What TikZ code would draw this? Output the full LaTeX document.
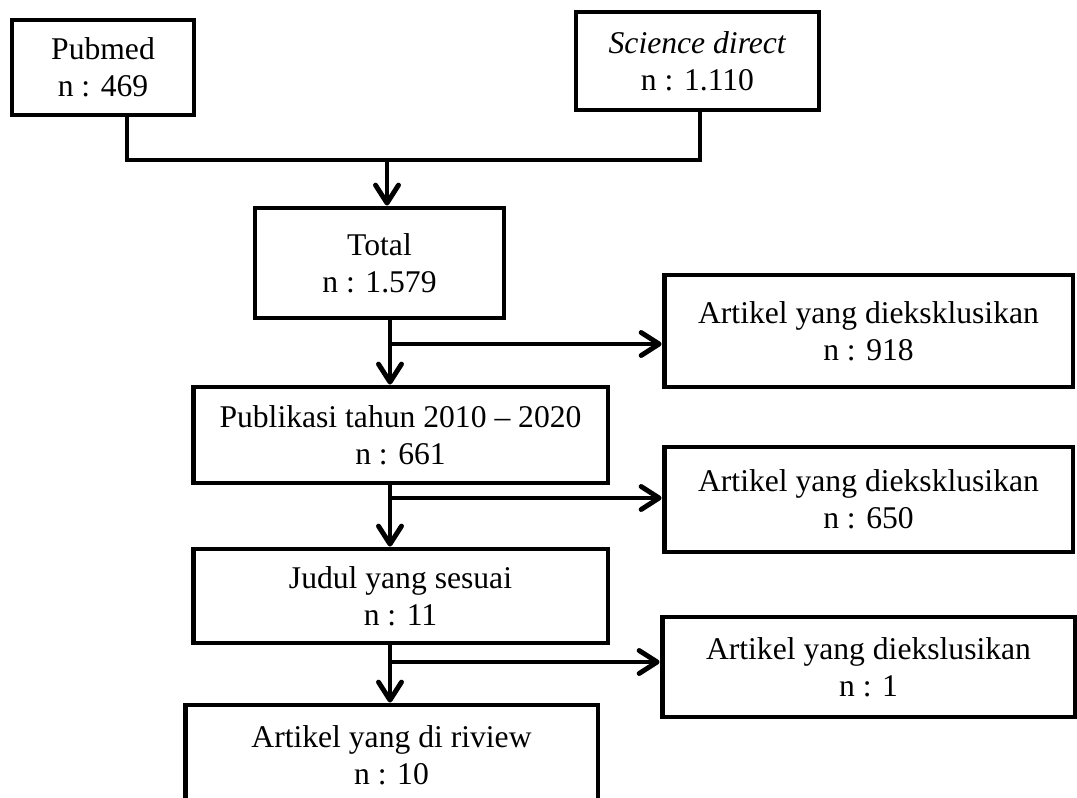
\documentclass[tikz,border=0pt]{standalone}
\usepackage{fontspec}
\setmainfont{Liberation Serif}
\usetikzlibrary{arrows.meta}

\begin{document}
\begin{tikzpicture}[x=0.02cm, y=-0.02cm,
		box/.style={draw, line width=2.8pt, align=center, inner sep=0pt, font=\fontsize{18}{21}\selectfont},
		link/.style={line width=2.8pt},
		arrow/.style={line width=2.8pt, -{Straight Barb[length=3.6mm, width=4.6mm, round]}}]
		\useasboundingbox (0,0) rectangle (1077,797);

		\node[box, minimum width=3.64cm, minimum height=1.9cm] (pubmed) at (103, 67.5) {Pubmed\\n : 469};
		\node[box, minimum width=4.86cm, minimum height=1.96cm] (science) at (697.5, 61) {\textit{Science direct}\\n : 1.110};
		\node[box, minimum width=4.98cm, minimum height=2.2cm] (total) at (379.5, 263) {Total\\n : 1.579};
		\node[box, minimum width=8.18cm, minimum height=2.24cm] (excl1) at (868.5, 331) {Artikel yang dieksklusikan\\n : 918};
		\node[box, minimum width=8.3cm, minimum height=1.92cm] (pub) at (400.5, 435) {Publikasi tahun 2010 -- 2020\\n : 661};
		\node[box, minimum width=8.18cm, minimum height=2.1cm] (excl2) at (868.5, 499.5) {Artikel yang dieksklusikan\\n : 650};
		\node[box, minimum width=8.3cm, minimum height=1.88cm] (judul) at (400.5, 596) {Judul yang sesuai\\n : 11};
		\node[box, minimum width=8.26cm, minimum height=2cm] (excl3) at (868.5, 667) {Artikel yang diekslusikan\\n : 1};
		\node[box, minimum width=8.26cm, minimum height=2cm] (review) at (391.5, 755) {Artikel yang di riview\\n : 10};

		\coordinate (pstem) at (127, 160);
		\coordinate (sstem) at (700, 160);
		\coordinate (merge) at (387, 160);
		\coordinate (b1) at (390, 344);
		\coordinate (b2) at (390, 498);
		\coordinate (b3) at (390, 662);

		\draw[link] (pubmed.south -| pstem) -- (pstem) -- (sstem) -- (science.south -| sstem);
		\draw[arrow] (merge) -- (total.north -| merge);

		\draw[arrow] (total.south -| b1) -- (pub.north -| b1);
		\draw[arrow] (b1) -- (excl1.west |- b1);

		\draw[arrow] (pub.south -| b2) -- (judul.north -| b2);
		\draw[arrow] (b2) -- (excl2.west |- b2);

		\draw[arrow] (judul.south -| b3) -- (review.north -| b3);
		\draw[arrow] (b3) -- (excl3.west |- b3);
	\end{tikzpicture}
\end{document}
